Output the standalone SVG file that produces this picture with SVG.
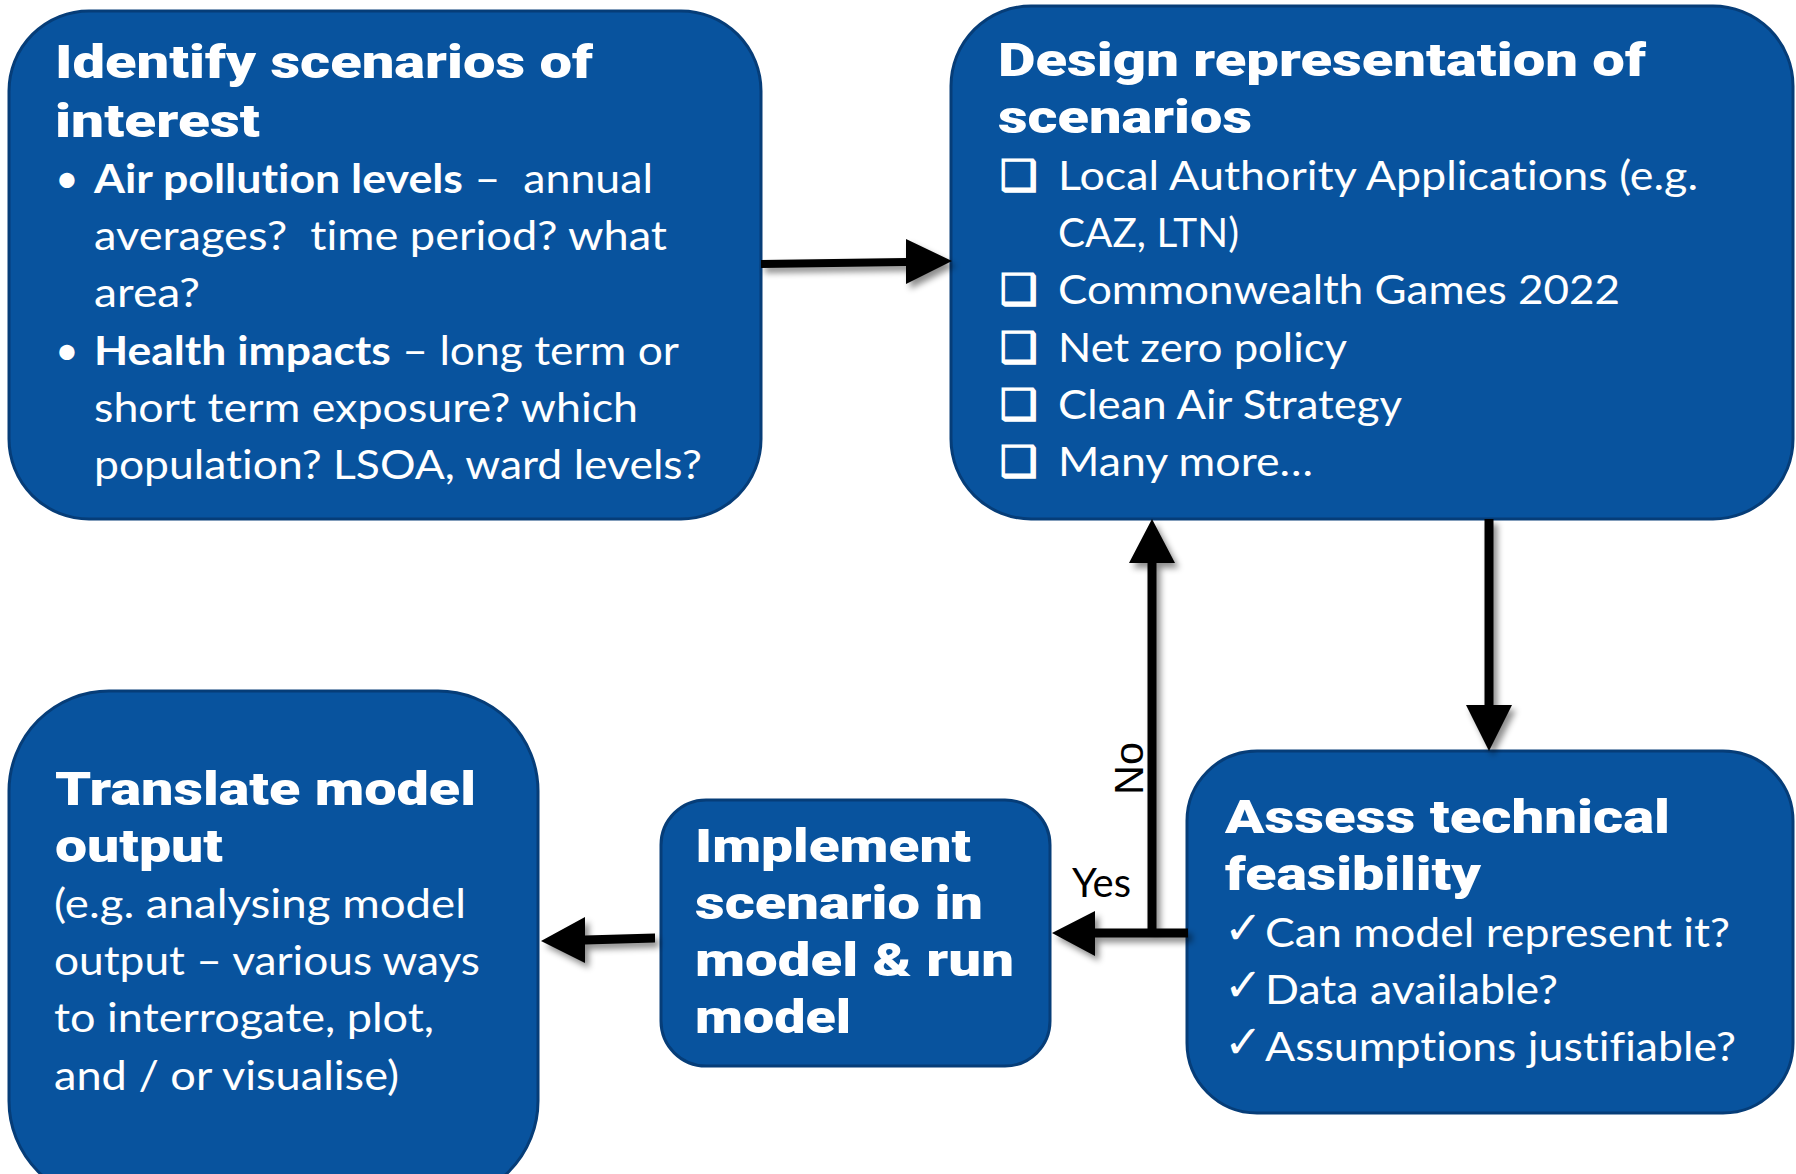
<svg xmlns="http://www.w3.org/2000/svg" width="1796" height="1174" viewBox="0 0 1796 1174">
<defs>
<style>
.box{fill:#08539E;stroke:#063D78;stroke-width:3}
.t{font-family:Roboto,Lato,Inter,"Liberation Sans",sans-serif;font-weight:900;font-size:46px;fill:#fff}
.b{font-family:Lato,"Open Sans","Liberation Sans",sans-serif;font-size:41px;fill:#fff;font-variant-ligatures:none}
.bb{font-weight:700}
.sym{font-family:"DejaVu Sans",sans-serif;fill:#fff}
.cb{stroke:#fff;stroke-width:1.6}
.arr{fill:#000}
.lbl{fill:#000}
</style>
<filter id="sh" x="-20%" y="-20%" width="150%" height="150%">
<feDropShadow dx="4" dy="5" stdDeviation="3" flood-color="#000" flood-opacity="0.45"/>
</filter>
</defs>
<rect width="1796" height="1174" fill="#fff"/>

<g id="identify">
<rect class="box" x="9" y="11" width="752" height="508" rx="80" ry="80"/>
<text class="t" x="55" y="78" textLength="538" lengthAdjust="spacingAndGlyphs">Identify scenarios of</text>
<text class="t" x="55" y="137" textLength="205" lengthAdjust="spacingAndGlyphs">interest</text>
<text class="b" x="55" y="193" font-size="36">•</text>
<text class="b" x="94" y="193" textLength="559" lengthAdjust="spacingAndGlyphs"><tspan class="bb">Air pollution levels</tspan> – &#160;annual</text>
<text class="b" x="94" y="250" textLength="573" lengthAdjust="spacingAndGlyphs">averages? &#160;time period? what</text>
<text class="b" x="94" y="307" textLength="106" lengthAdjust="spacingAndGlyphs">area?</text>
<text class="b" x="55" y="365" font-size="36">•</text>
<text class="b" x="94" y="365" textLength="585" lengthAdjust="spacingAndGlyphs"><tspan class="bb">Health impacts</tspan> – long term or</text>
<text class="b" x="94" y="422" textLength="544" lengthAdjust="spacingAndGlyphs">short term exposure? which</text>
<text class="b" x="94" y="479" textLength="608" lengthAdjust="spacingAndGlyphs">population? LSOA, ward levels?</text>
</g>

<g id="design">
<rect class="box" x="951" y="6" width="842" height="513" rx="80" ry="80"/>
<text class="t" x="998" y="76" textLength="648" lengthAdjust="spacingAndGlyphs">Design representation of</text>
<text class="t" x="998" y="133" textLength="254" lengthAdjust="spacingAndGlyphs">scenarios</text>
<text class="sym cb" x="1000" y="190" font-size="42">❑</text>
<text class="b" x="1058" y="190" textLength="640" lengthAdjust="spacingAndGlyphs">Local Authority Applications (e.g.</text>
<text class="b" x="1058" y="247" textLength="181" lengthAdjust="spacingAndGlyphs">CAZ, LTN)</text>
<text class="sym cb" x="1000" y="304" font-size="42">❑</text>
<text class="b" x="1058" y="304" textLength="562" lengthAdjust="spacingAndGlyphs">Commonwealth Games 2022</text>
<text class="sym cb" x="1000" y="362" font-size="42">❑</text>
<text class="b" x="1058" y="362" textLength="289" lengthAdjust="spacingAndGlyphs">Net zero policy</text>
<text class="sym cb" x="1000" y="419" font-size="42">❑</text>
<text class="b" x="1058" y="419" textLength="344" lengthAdjust="spacingAndGlyphs">Clean Air Strategy</text>
<text class="sym cb" x="1000" y="476" font-size="42">❑</text>
<text class="b" x="1058" y="476" textLength="255" lengthAdjust="spacingAndGlyphs">Many more…</text>
</g>

<g id="assess">
<rect class="box" x="1187" y="751" width="606" height="362" rx="70" ry="70"/>
<text class="t" x="1225" y="833" textLength="445" lengthAdjust="spacingAndGlyphs">Assess technical</text>
<text class="t" x="1225" y="890" textLength="256" lengthAdjust="spacingAndGlyphs">feasibility</text>
<text class="sym" x="1224" y="944" font-size="46">✓</text>
<text class="b" x="1265" y="947" textLength="465" lengthAdjust="spacingAndGlyphs">Can model represent it?</text>
<text class="sym" x="1224" y="1001" font-size="46">✓</text>
<text class="b" x="1265" y="1004" textLength="293" lengthAdjust="spacingAndGlyphs">Data available?</text>
<text class="sym" x="1224" y="1058" font-size="46">✓</text>
<text class="b" x="1265" y="1061" textLength="471" lengthAdjust="spacingAndGlyphs">Assumptions justifiable?</text>
</g>

<g id="implement">
<rect class="box" x="661" y="800" width="389" height="266" rx="45" ry="45"/>
<text class="t" x="695" y="862" textLength="276" lengthAdjust="spacingAndGlyphs">Implement</text>
<text class="t" x="695" y="919" textLength="288" lengthAdjust="spacingAndGlyphs">scenario in</text>
<text class="t" x="695" y="976" textLength="319" lengthAdjust="spacingAndGlyphs">model &amp; run</text>
<text class="t" x="695" y="1033" textLength="156" lengthAdjust="spacingAndGlyphs">model</text>
</g>

<g id="translate">
<rect class="box" x="9" y="691" width="529" height="510" rx="100" ry="100"/>
<text class="t" x="55" y="805" textLength="421" lengthAdjust="spacingAndGlyphs">Translate model</text>
<text class="t" x="55" y="862" textLength="168" lengthAdjust="spacingAndGlyphs">output</text>
<text class="b" x="54" y="918" textLength="412" lengthAdjust="spacingAndGlyphs">(e.g. analysing model</text>
<text class="b" x="54" y="975" textLength="426" lengthAdjust="spacingAndGlyphs">output – various ways</text>
<text class="b" x="54" y="1032" textLength="380" lengthAdjust="spacingAndGlyphs">to interrogate, plot,</text>
<text class="b" x="54" y="1090" textLength="345" lengthAdjust="spacingAndGlyphs">and / or visualise)</text>
</g>

<g id="connectors" filter="url(#sh)">
<polygon class="arr" points="761,260 906,258 906,239 952,261 906,284 906,266 761,268"/>
<polygon class="arr" points="1484.5,519 1493.5,519 1493.5,705 1512,705 1489,751 1466,705 1484.5,705"/>
<polygon class="arr" points="1188,928.5 1188,937.5 1095,937.5 1095,956 1052,933 1095,911 1095,928.5"/>
<polygon class="arr" points="1147.5,933 1156.5,933 1156.5,563 1175,563 1152,519 1129,563 1147.5,563"/>
<polygon class="arr" points="655,933.5 655,942.5 585,944.5 585,963 541,941 585,917 585,935.5"/>
</g>

<g id="labels">
<text class="lbl" x="1072" y="897" font-family="Lato,'Open Sans',sans-serif" font-size="41" textLength="59" lengthAdjust="spacingAndGlyphs">Yes</text>
<text class="lbl" transform="translate(1143,795) rotate(-90)" font-family="'Liberation Sans',Arial,sans-serif" font-size="40" textLength="53" lengthAdjust="spacingAndGlyphs">No</text>
</g>
</svg>
